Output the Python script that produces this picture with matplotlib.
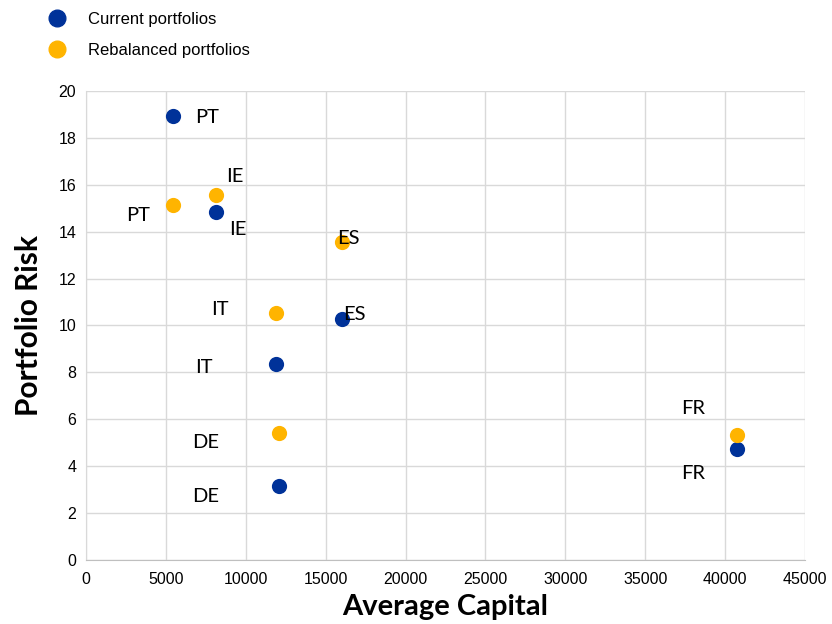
import matplotlib
matplotlib.use('Agg')
import matplotlib.pyplot as plt

countries = ['PT', 'IE', 'ES', 'IT', 'DE', 'FR']
capital = [5450, 8150, 16050, 11900, 12050, 40750]
risk_current = [18.95, 14.85, 10.27, 8.37, 3.15, 4.73]
risk_rebalanced = [15.15, 15.57, 13.57, 10.52, 5.4, 5.32]

# label offsets in points (dx, dy) from each point
off_current = [(15.5, -1.2), (9, -12.5), (0.5, 3.3), (-58, -3), (-62.5, -7.5), (-40.5, -17.5)]
off_rebal = [(-34, -8), (7, 13), (-3.5, 2.6), (-47, 2.6), (-62.5, -6.8), (-40, 19)]

blue = '#003299'
gold = '#FFB400'

fig = plt.figure(figsize=(8.32, 6.24), dpi=100)
ax = fig.add_axes([0.1034, 0.1026, 0.8641, 0.7516])

ax.scatter(capital, risk_current, s=120, color=blue, zorder=3, linewidths=0)
ax.scatter(capital, risk_rebalanced, s=120, color=gold, zorder=3, linewidths=0)

for i, c in enumerate(countries):
    ax.annotate(c, (capital[i], risk_current[i]), xytext=off_current[i], textcoords='offset points',
                ha='left', va='center', fontsize=14.5, family='Lato', zorder=4)
    ax.annotate(c, (capital[i], risk_rebalanced[i]), xytext=off_rebal[i], textcoords='offset points',
                ha='left', va='center', fontsize=14.5, family='Lato', zorder=4)

ax.set_xlim(0, 45000)
ax.set_ylim(0, 20)
ax.set_xticks(range(0, 45001, 5000))
ax.set_yticks(range(0, 21, 2))
ax.grid(True, color='#d9d9d9', linewidth=1)
ax.set_axisbelow(True)
for s in ['top', 'right']:
    ax.spines[s].set_visible(False)
ax.spines['left'].set_color('#d9d9d9')
ax.spines['bottom'].set_color('#bfbfbf')
ax.tick_params(length=0, labelsize=11.5)
ax.tick_params(axis='x', pad=9)
ax.tick_params(axis='y', pad=7)
for lab in ax.get_xticklabels() + ax.get_yticklabels():
    lab.set_family('Liberation Sans')

ax.set_xlabel('Average Capital', fontsize=21, fontweight='bold', family='Lato', labelpad=5)
ax.set_ylabel('Portfolio Risk', fontsize=21.5, fontweight='bold', family='Lato', labelpad=11)

h1 = plt.Line2D([], [], marker='o', linestyle='', color=blue, markersize=12)
h2 = plt.Line2D([], [], marker='o', linestyle='', color=gold, markersize=12)
fig.legend([h1, h2], ['Current portfolios', 'Rebalanced portfolios'], loc='upper left',
           bbox_to_anchor=(0.03, 1.005), frameon=False, prop={'family': 'Liberation Sans', 'size': 12},
           handletextpad=0.9, labelspacing=0.95)

fig.savefig('out.png', dpi=100)
